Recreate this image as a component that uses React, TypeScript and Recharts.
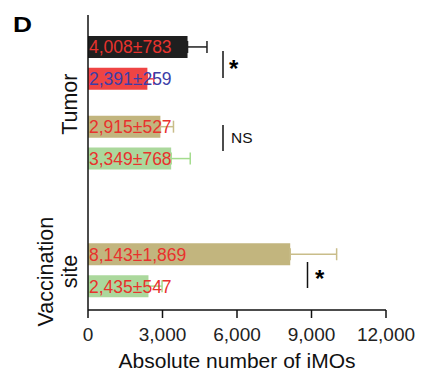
import { BarChart, Bar, XAxis, YAxis, ErrorBar, LabelList, Label } from 'recharts';

// group names on the y axis
const groups = ['Tumor', 'Vaccination site'];
// one entry per bar, top to bottom
const barGroup = [0, 0, 0, 0, 1, 1];
const barSlot = [2, 4, 7, 9, 15, 17];
const barSeries = ['black', 'red', 'tan', 'green', 'tan', 'green'];
const means = [4008, 2391, 2915, 3349, 8143, 2435];
const sems = [783, 259, 527, 768, 1869, 547];
const xTicks = [0, 3000, 6000, 9000, 12000];

const SERIES = ['black', 'red', 'tan', 'green'];
const seriesFill: Record<string, string> = {
  black: '#1f1f1f',
  red: '#ef4444',
  tan: '#c2b57e',
  green: '#abd89c',
};
const seriesErr: Record<string, string> = {
  black: '#1f1f1f',
  red: '#ef4444',
  tan: '#c9bd8a',
  green: '#a4dc8e',
};
const labelColors = ['#e8322d', '#3c3ea8', '#e8322d', '#e8322d', '#e8322d', '#e8322d'];

const rows = means.map((m, i) => ({
  slot: barSlot[i],
  label: `${m.toLocaleString('en-US')}±${sems[i].toLocaleString('en-US')}`,
  [barSeries[i]]: m,
  [barSeries[i] + 'Err']: [0, sems[i]],
}));

// y position of each group label = middle of its bars
const groupCenters = groups.map((_, g) => {
  const s = barSlot.filter((_, i) => barGroup[i] === g);
  return s.reduce((a, b) => a + b, 0) / s.length;
});

const GroupTick = (props: any) => {
  const { y, payload } = props;
  const g = groupCenters.indexOf(payload.value);
  if (g < 0) return null;
  const lines = groups[g].split(' ');
  return (
    <g>
      {lines.map((line, i) => {
        const bx = 77 - 24 * (lines.length - 1 - i);
        return (
          <text
            key={line}
            x={bx}
            y={y + 1.5}
            transform={`rotate(-90, ${bx}, ${y + 1.5})`}
            textAnchor="middle"
            fontSize={21.5}
            fill="#111"
          >
            {line}
          </text>
        );
      })}
    </g>
  );
};

const BarText = (props: any) => {
  const { x, y, width, height, value } = props;
  if (!width || !value) return null;
  const i = rows.findIndex((r) => r.label === value);
  return (
    <text x={x + 1} y={y + height / 2 + 6.5} fontSize={17.5} fill={labelColors[i]}>
      {value}
    </text>
  );
};

export default function App() {
  return (
    <div
      style={{
        position: 'absolute',
        left: 0,
        top: 0,
        width: 421,
        height: 377,
        background: '#fff',
        fontFamily: '"Liberation Sans", Arial, sans-serif',
      }}
    >
      <BarChart
        width={421}
        height={377}
        data={rows}
        layout="vertical"
        margin={{ top: 15, right: 35, left: 0, bottom: 0 }}
      >
        <XAxis
          type="number"
          domain={[0, 12000]}
          ticks={xTicks}
          tickFormatter={(v: number) => v.toLocaleString('en-US')}
          axisLine={{ stroke: '#111', strokeWidth: 1.5 }}
          tickLine={{ stroke: '#111', strokeWidth: 1.5 }}
          tickSize={8}
          tickMargin={10}
          tick={{ fontSize: 19, fill: '#222' }}
          height={67}
          interval={0}
        >
          <Label
            value="Absolute number of iMOs"
            position="insideBottom"
            offset={9}
            fontSize={21}
            fill="#111"
          />
        </XAxis>
        <YAxis
          type="number"
          dataKey="slot"
          domain={[0, 18.5]}
          width={88}
          ticks={groupCenters}
          interval={0}
          tick={<GroupTick />}
          tickLine={false}
          axisLine={{ stroke: '#111', strokeWidth: 1.5 }}
        />
        {SERIES.map((s) => (
          <Bar
            key={s}
            dataKey={s}
            stackId="a"
            fill={seriesFill[s]}
            barSize={22}
            isAnimationActive={false}
          >
            <ErrorBar
              dataKey={s + 'Err'}
              direction="x"
              width={6}
              stroke={seriesErr[s]}
              strokeWidth={1.5}
            />
            <LabelList dataKey="label" content={<BarText />} />
          </Bar>
        ))}
      </BarChart>
      <svg
        width={421}
        height={377}
        style={{ position: 'absolute', left: 0, top: 0, pointerEvents: 'none' }}
      >
        <text
          x={13}
          y={32}
          fontSize={22}
          fontWeight="bold"
          textLength={19}
          lengthAdjust="spacingAndGlyphs"
          fill="#000"
        >
          D
        </text>
        <line x1={223} y1={51} x2={223} y2={78} stroke="#111" strokeWidth={1.5} />
        <text x={229} y={77} fontSize={24} fontWeight="bold" fill="#000">*</text>
        <line x1={223} y1={125} x2={223} y2={151} stroke="#111" strokeWidth={1.5} />
        <text x={231} y={142.7} fontSize={15.5} fill="#111">NS</text>
        <line x1={307.5} y1={262} x2={307.5} y2={288} stroke="#111" strokeWidth={1.5} />
        <text x={315} y={287} fontSize={24} fontWeight="bold" fill="#000">*</text>
      </svg>
    </div>
  );
}
